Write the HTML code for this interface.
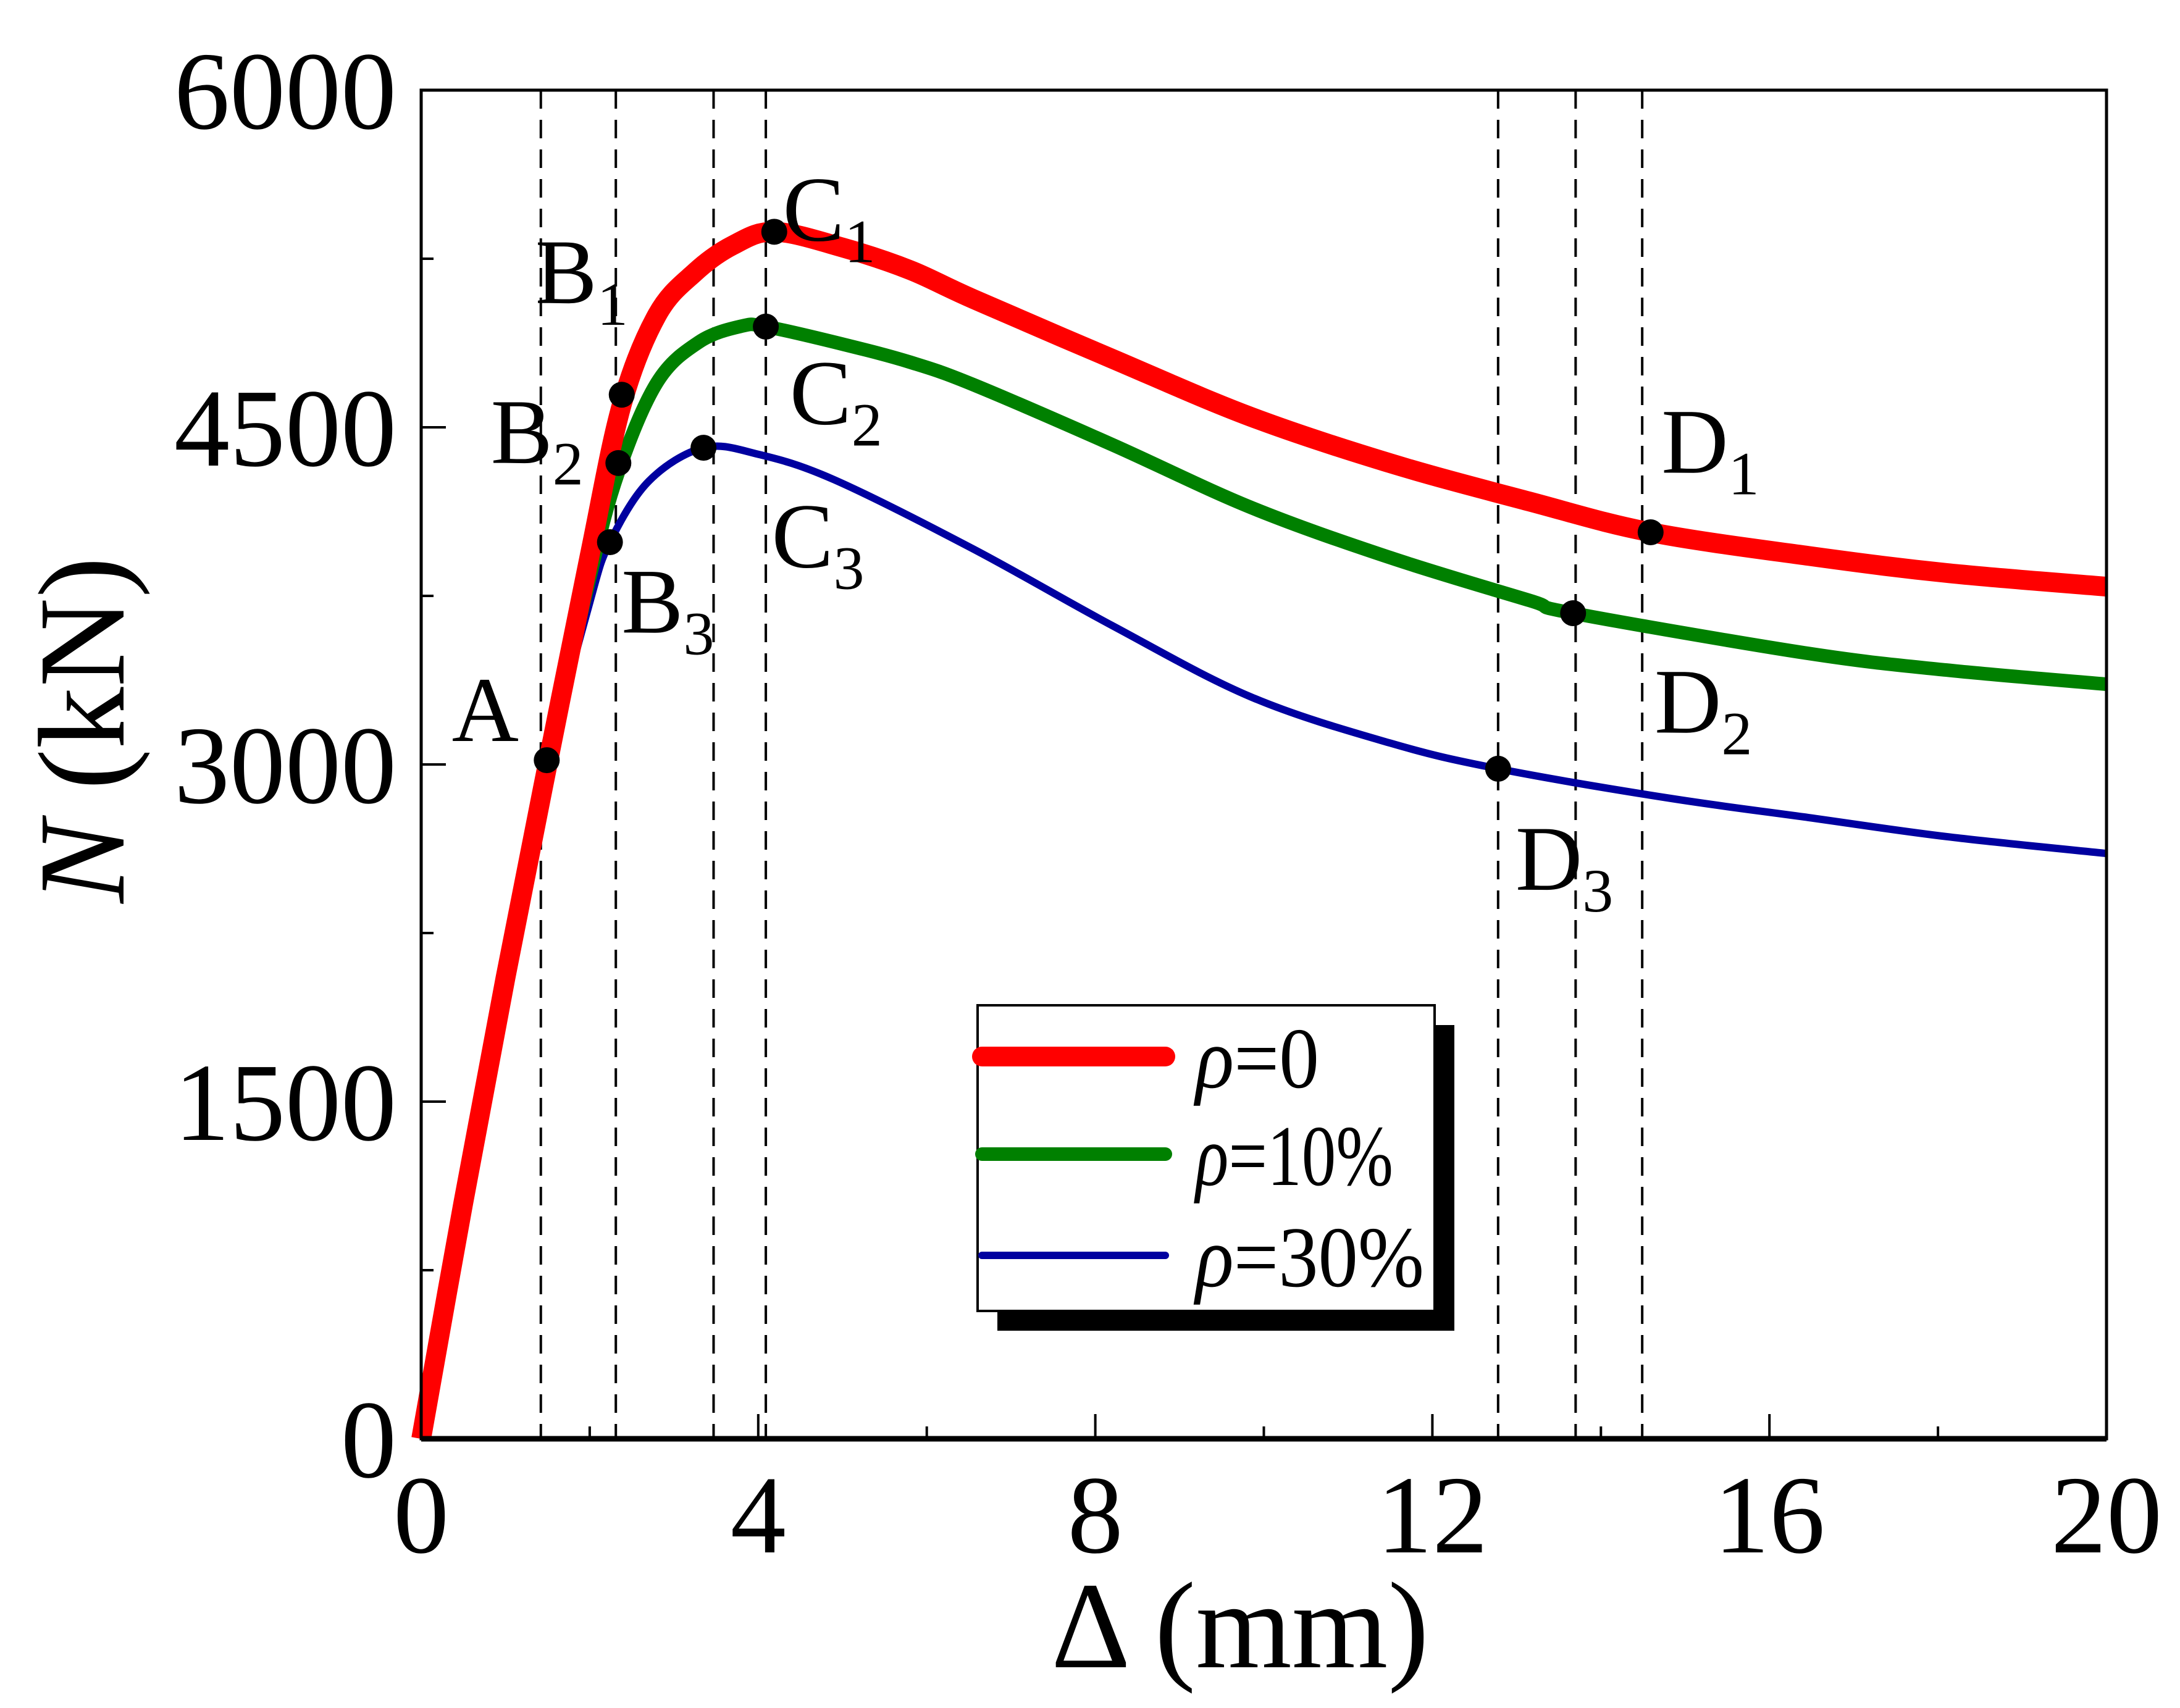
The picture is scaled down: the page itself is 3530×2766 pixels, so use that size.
<!DOCTYPE html>
<html><head><meta charset="utf-8"><style>
html,body{margin:0;padding:0;background:#fff;}
svg{display:block;font-family:"Liberation Serif",serif;}
</style></head><body>
<svg id="chart" width="3530" height="2766" viewBox="0 0 3530 2766" xmlns="http://www.w3.org/2000/svg">
<g id="grid"></g>
<g id="series"></g>
<g id="points"></g>
<g id="axes"></g>
<g id="labels"></g>
<g id="legend"></g>
</svg>
<script>
const xTicks = [0, 4, 8, 12, 16, 20];
const yTicks = [0, 1500, 3000, 4500, 6000];
const guideX = [1.42, 2.31, 3.47, 4.09, 12.78, 13.70, 14.49];
const redX = [0, 0.5, 1.0, 1.5, 2.0, 2.38, 2.8, 3.25, 3.7, 4.19, 5.0, 5.8, 6.55, 8.2, 9.85, 11.5, 13.15, 14.59, 16.46, 18.1, 20];
const redY = [0, 1050, 2050, 3000, 3930, 4600, 5000, 5190, 5310, 5370, 5300, 5200, 5071, 4805, 4546, 4340, 4170, 4033, 3928, 3852, 3791];
const greenX = [0, 0.5, 1.0, 1.5, 2.0, 2.34, 2.8, 3.3, 3.8, 4.09, 5.0, 5.8, 6.55, 8.2, 9.85, 11.5, 13.15, 13.67, 16.46, 18.1, 20];
const greenY = [0, 1000, 1980, 2980, 3830, 4300, 4700, 4880, 4950, 4948, 4870, 4790, 4690, 4423, 4143, 3920, 3730, 3673, 3494, 3420, 3357];
const blueX = [0, 0.5, 1.0, 1.5, 2.0, 2.24, 2.7, 3.35, 4.0, 4.9, 6.55, 8.2, 9.85, 11.5, 12.78, 14.81, 16.46, 18.1, 20];
const blueY = [0, 950, 1950, 2980, 3720, 3989, 4260, 4409, 4380, 4267, 3959, 3618, 3300, 3095, 2981, 2850, 2764, 2679, 2604];
const pointX = [1.49, 2.38, 2.34, 2.24, 4.19, 4.09, 3.35, 14.59, 13.67, 12.78];
const pointY = [3019, 4645, 4341, 3989, 5370, 4948, 4409, 4033, 3673, 2981];
const labelMain = ["A","B","B","B","C","C","C","D","D","D"];
const labelSub = ["","1","2","3","1","2","3","1","2","3"];
const labelPosX = [325, 385, 353, 447, 563, 568, 555, 1195, 1190, 1090];
const labelPosY = [533, 218, 333, 455, 173, 305, 408, 340, 527, 640];
const legendNames = ["=0", "=10%", "=30%"];

const NS = "http://www.w3.org/2000/svg";
const L = 682, R = 3411, T = 146, B = 2330;
const xs = v => L + (v / 20) * (R - L);
const ys = v => B - (v / 6000) * (B - T);
function mk(tag, attrs, parent) {
  const e = document.createElementNS(NS, tag);
  for (const k in attrs) e.setAttribute(k, attrs[k]);
  parent.appendChild(e);
  return e;
}
function smooth(px, py) {
  const p = px.map((v, i) => [xs(v), ys(py[i])]);
  let d = "M" + p[0][0] + "," + p[0][1];
  for (let i = 0; i < p.length - 1; i++) {
    const p0 = p[Math.max(0, i - 1)], p1 = p[i], p2 = p[i + 1], p3 = p[Math.min(p.length - 1, i + 2)];
    const c1 = [p1[0] + (p2[0] - p0[0]) / 6, p1[1] + (p2[1] - p0[1]) / 6];
    const c2 = [p2[0] - (p3[0] - p1[0]) / 6, p2[1] - (p3[1] - p1[1]) / 6];
    d += " C" + c1 + " " + c2 + " " + p2;
  }
  return d;
}
const grid = document.getElementById("grid");
guideX.forEach(g => {
  const l = mk("line", {x1: xs(g), x2: xs(g), y1: T, y2: B, stroke: "#000", "stroke-width": 4, "stroke-dasharray": "30 18"}, grid);
  
  
});
const sg = document.getElementById("series");
[[blueX, blueY, "#0000a0", 12, "series-rho-30"], [greenX, greenY, "#008000", 22, "series-rho-10"], [redX, redY, "#ff0000", 32, "series-rho-0"]].forEach(s => {
  const p = mk("path", {d: smooth(s[0], s[1]), fill: "none", stroke: s[2], "stroke-width": s[3], "stroke-linejoin": "round"}, sg);
  
  
});
const pg = document.getElementById("points");
pointX.forEach((v, i) => {
  const c = mk("circle", {cx: xs(v), cy: ys(pointY[i]), r: 21, fill: "#000"}, pg);
  
  
});
const ax = document.getElementById("axes");
const frame = mk("rect", {x: L, y: T, width: R - L, height: B - T, fill: "none", stroke: "#000", "stroke-width": 5}, ax);


mk("line", {x1: L, x2: R, y1: B, y2: B, stroke: "#000", "stroke-width": 9}, ax);
xTicks.forEach((t, i) => {
  mk("line", {x1: xs(t), x2: xs(t), y1: B, y2: B - 40, stroke: "#000", "stroke-width": 4}, ax);
  if (i < xTicks.length - 1) { const m = (t + xTicks[i + 1]) / 2; mk("line", {x1: xs(m), x2: xs(m), y1: B, y2: B - 20, stroke: "#000", "stroke-width": 4}, ax); }
  const tx = mk("text", {x: xs(t), y: 2514, "font-size": 180, "text-anchor": "middle"}, ax);
  tx.textContent = t;
  
  
});
yTicks.forEach((t, i) => {
  mk("line", {x1: L, x2: L + 40, y1: ys(t), y2: ys(t), stroke: "#000", "stroke-width": 4}, ax);
  if (i < yTicks.length - 1) { const m = (t + yTicks[i + 1]) / 2; mk("line", {x1: L, x2: L + 20, y1: ys(m), y2: ys(m), stroke: "#000", "stroke-width": 4}, ax); }
  const tx = mk("text", {x: 642, y: ys(t) + 62, "font-size": 180, "text-anchor": "end"}, ax);
  tx.textContent = t;
  
  
});
const xl = mk("text", {x: 2008, y: 2700, "font-size": 200, "text-anchor": "middle"}, ax);
xl.textContent = "Δ (mm)";


const yl = mk("text", {x: 0, y: 0, "font-size": 200, "text-anchor": "middle", transform: "translate(200,1182) rotate(-90)"}, ax);
yl.innerHTML = '<tspan font-style="italic">N</tspan> (kN)';


const lg = document.getElementById("labels");
const S = 2.2513;
labelMain.forEach((m, i) => {
  const t = mk("text", {x: labelPosX[i] * S, y: labelPosY[i] * S, "font-size": 150}, lg);
  t.innerHTML = m + (labelSub[i] ? '<tspan font-size="100" dy="35">' + labelSub[i] + '</tspan>' : '');
  
  
});
const leg = document.getElementById("legend");
mk("rect", {x: 1615, y: 1660, width: 740, height: 495, fill: "#000"}, leg);
const box = mk("rect", {x: 1583, y: 1628, width: 740, height: 495, fill: "#fff", stroke: "#000", "stroke-width": 4}, leg);


const legC = ["#ff0000", "#008000", "#0000a0"], legW = [32, 22, 12], legY = [1711, 1869, 2033], legLen = [200, 320, 370];
legendNames.forEach((n, i) => {
  const l = mk("line", {x1: 1590, x2: 1887, y1: legY[i], y2: legY[i], stroke: legC[i], "stroke-width": legW[i], "stroke-linecap": "round"}, leg);
  
  
  const t = mk("text", {x: 1936, y: legY[i] + 50, "font-size": 140, textLength: legLen[i], lengthAdjust: "spacingAndGlyphs"}, leg);
  t.innerHTML = '<tspan font-style="italic">ρ</tspan>' + n;
  
  
});
</script>
</body></html>
